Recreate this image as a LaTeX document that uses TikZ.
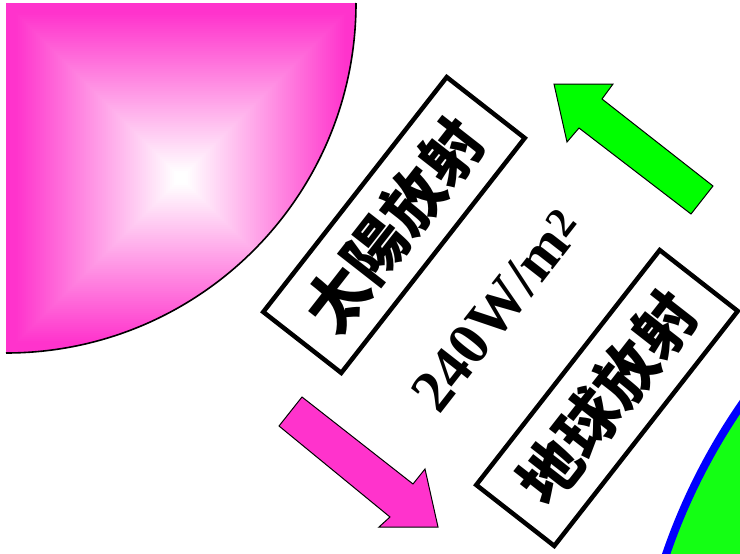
\documentclass[tikz,border=0pt]{standalone}
\usepackage{fontspec}
\setmainfont{Liberation Serif}
\newfontfamily\cjk{Noto Sans CJK TC}
\newfontfamily\fluxfont{Liberation Serif Bold}
\definecolor{sunpink}{RGB}{255,51,204}
\definecolor{earthgreen}{RGB}{20,255,20}
\definecolor{arrowgreen}{RGB}{0,255,0}
\definecolor{earthblue}{RGB}{0,0,255}
\tikzset{
	tag/.style  = {draw, line width=4.5pt, rectangle, rotate=52,
		minimum width=298pt, minimum height=99pt,
		font=\cjk\bfseries\fontsize{62}{62}\selectfont},
	flux/.style = {rotate=52, font=\fluxfont\fontsize{60}{60}\selectfont},
	ray/.style  = {draw=black, line width=1pt, line join=miter}
}

\begin{document}
\begin{tikzpicture}[x=1pt, y=1pt]
	\useasboundingbox (0,0) rectangle (740,-554);
	\clip (0,0) rectangle (740,-554);

	% sun: quarter disk with a square gradient
	\begin{scope}
		\clip (6,-3) -- (356,-3) arc[start angle=0, end angle=-90, radius=350] -- cycle;
		\fill[white] (6,-3) rectangle (356,-353);
		\foreach \k in {0,...,85} {
			\pgfmathsetmacro\side{175-2*\k}
			\pgfmathsetmacro\tint{max(0,min(100,(\side-6)/160*100))}
			\fill[sunpink!\tint!white] (181-\side,-178+\side) rectangle (181+\side,-178-\side);
		}
	\end{scope}
	\draw[line width=1.6pt] (356,-3) arc[start angle=0, end angle=-90, radius=350];

	% earth
	\draw[earthblue, line width=8pt, fill=earthgreen] (1249,-754) circle[radius=616];

	% arrows
	\draw[ray, fill=sunpink] (302,-397) -- (413,-484) -- (425,-469) -- (438,-527)
		-- (379,-527) -- (390,-517) -- (279,-426) -- cycle;
	\draw[ray, fill=arrowgreen] (554,-84) -- (613,-84) -- (602,-99) -- (713,-186)
		-- (691,-214) -- (579,-128) -- (567,-142) -- cycle;

	% labels
	\node[tag] (solar) at (394,-225) {太陽放射};
	\node[tag] (terra) at (607,-398) {地球放射};
	\node[flux] (flux) at (497,-310) {240W/m\textsuperscript{2}};
\end{tikzpicture}
\end{document}
